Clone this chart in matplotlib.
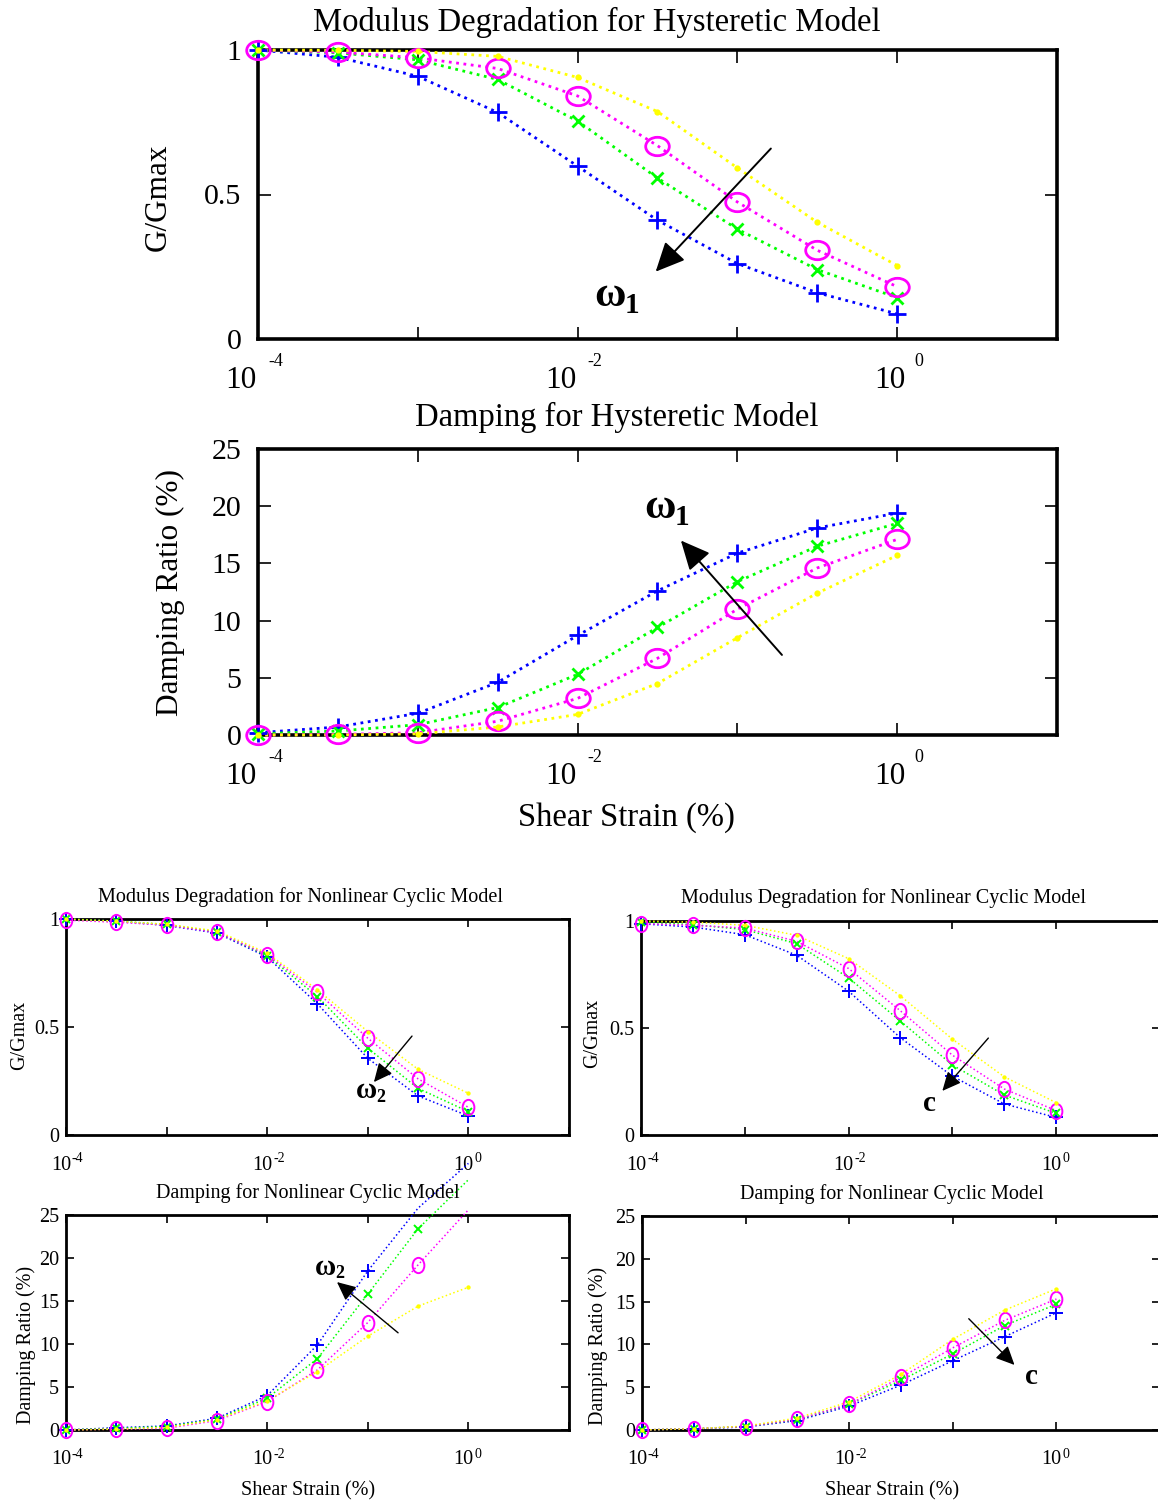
import numpy as np
import matplotlib
matplotlib.use('Agg')
import matplotlib.pyplot as plt
from matplotlib.path import Path
from matplotlib.transforms import Affine2D
from matplotlib.ticker import NullLocator

plt.rcParams['font.family'] = ['Liberation Serif', 'DejaVu Serif']

# shear strain (%) at which each curve is sampled
strain = [1e-4, 3.16e-4, 1e-3, 3.16e-3, 1e-2, 3.16e-2, 1e-1, 3.16e-1, 1.0]

# hysteretic model, G/Gmax (blue, green, magenta, yellow)
hys_mod_blue = [1.00, 0.975, 0.909, 0.784, 0.598, 0.411, 0.261, 0.160, 0.087]
hys_mod_green = [1.00, 0.990, 0.966, 0.898, 0.754, 0.557, 0.380, 0.240, 0.143]
hys_mod_mag = [1.00, 0.993, 0.973, 0.936, 0.841, 0.669, 0.474, 0.307, 0.181]
hys_mod_yel = [1.00, 0.999, 0.995, 0.978, 0.905, 0.787, 0.592, 0.404, 0.254]

# hysteretic model, damping ratio (%)
hys_damp_blue = [0.2, 0.7, 1.9, 4.6, 8.7, 12.6, 15.9, 18.1, 19.4]
hys_damp_green = [0.1, 0.35, 0.9, 2.4, 5.3, 9.4, 13.4, 16.5, 18.5]
hys_damp_mag = [0.0, 0.05, 0.2, 1.2, 3.2, 6.7, 11.0, 14.6, 17.1]
hys_damp_yel = [0.0, 0.0, 0.1, 0.7, 1.8, 4.5, 8.5, 12.4, 15.7]

# nonlinear cyclic model, varying omega2
w2_mod_blue = [1.00, 0.990, 0.970, 0.935, 0.824, 0.607, 0.355, 0.181, 0.088]
w2_mod_green = [1.00, 0.990, 0.975, 0.940, 0.830, 0.641, 0.402, 0.216, 0.108]
w2_mod_mag = [0.995, 0.985, 0.972, 0.938, 0.835, 0.660, 0.448, 0.260, 0.128]
w2_mod_yel = [1.00, 0.990, 0.975, 0.945, 0.842, 0.672, 0.479, 0.304, 0.193]

w2_damp_blue = [0.0, 0.27, 0.47, 1.36, 4.0, 9.9, 18.5, 25.8, 31.0]
w2_damp_green = [0.0, 0.2, 0.4, 1.25, 3.7, 8.3, 15.8, 23.4, 29.1]
w2_damp_mag = [0.0, 0.1, 0.2, 1.1, 3.3, 7.0, 12.5, 19.2, 25.6]
w2_damp_yel = [0.0, 0.1, 0.3, 1.2, 3.4, 6.8, 10.9, 14.4, 16.6]

# nonlinear cyclic model, varying c
c_mod_blue = [0.987, 0.972, 0.936, 0.840, 0.672, 0.454, 0.275, 0.145, 0.082]
c_mod_green = [0.995, 0.983, 0.960, 0.894, 0.734, 0.532, 0.327, 0.187, 0.101]
c_mod_mag = [0.988, 0.980, 0.967, 0.905, 0.778, 0.580, 0.373, 0.215, 0.114]
c_mod_yel = [1.00, 0.995, 0.980, 0.933, 0.824, 0.650, 0.448, 0.272, 0.151]

c_damp_blue = [0.0, 0.15, 0.35, 1.1, 2.8, 5.25, 8.1, 10.9, 13.7]
c_damp_green = [0.0, 0.15, 0.4, 1.2, 3.0, 5.8, 8.9, 12.2, 14.7]
c_damp_mag = [0.0, 0.15, 0.4, 1.25, 3.0, 6.15, 9.6, 12.8, 15.3]
c_damp_yel = [0.0, 0.15, 0.45, 1.4, 3.3, 6.5, 10.6, 14.0, 16.5]

BLUE = (0, 0, 1)
GREEN = (0, 1, 0)
MAG = (1, 0, 1)
YEL = (1, 1, 0)

W, H = 1158, 1506
BIG_TXT = 23.5
SMALL_TXT = 14.5


def ellipse(sy):
    # circles in the source are slightly squashed
    return Path.unit_circle().transformed(Affine2D().scale(1.0, sy))


def px_rect(l, t, r, b):
    return [l / W, (H - b) / H, (r - l) / W, (b - t) / H]


def draw_curves(ax, series, big, ymax):
    if big:
        lw, ms = 2.0, dict(plus=13, x=8, o=17, dot=5)
        mew = 2.0
        circ = ellipse(0.78)
    else:
        lw, ms = 1.1, dict(plus=10, x=6, o=11, dot=3.5)
        mew = 1.4
        circ = ellipse(1.3)
    styles = [(BLUE, '+', ms['plus']), (GREEN, 'x', ms['x']),
              (MAG, circ, ms['o']), (YEL, '.', ms['dot'])]
    for y, (col, mk, size) in zip(series, styles):
        y = np.array(y, dtype=float)
        ax.plot(strain, y, ls=':', color=col, lw=lw, clip_on=False, zorder=3)
        yv = np.where(y <= ymax, y, np.nan)
        ax.plot(strain, yv, ls='none', marker=mk, ms=size, mew=mew,
                color=col, mfc='none' if mk is circ else col,
                clip_on=False, zorder=4)


def setup_axes(ax, ylim, yticks, ylabels, big):
    ax.set_xscale('log')
    ax.set_xlim(1e-4, 10)
    ax.set_ylim(*ylim)
    ax.set_xticks([1e-4, 1e-3, 1e-2, 1e-1, 1, 10])
    ax.xaxis.set_minor_locator(NullLocator())
    ax.set_xticklabels([])
    ax.set_yticks(yticks)
    ax.set_yticklabels(ylabels)
    ax.tick_params(direction='in', top=True, right=True,
                   length=9 if big else 6, width=1.2,
                   labelsize=21.5 if big else 14.5, pad=12 if big else 5)
    for sp in ax.spines.values():
        sp.set_linewidth(2.6 if big else 2.0)
    # decade labels in the old "10 -4" style
    tr = ax.get_xaxis_transform()
    k = 72.0 / 100
    for e in [-4, -2, 0]:
        if big:
            dx10, dxe = {-4: (-2, 10), -2: (-1, 10), 0: (8, 17)}[e]
            ax.annotate('10', xy=(10.0 ** e, 0), xycoords=tr,
                        xytext=(dx10 * k, -41 * k), textcoords='offset points',
                        ha='right', va='center', fontsize=22.5)
            ax.annotate(str(e), xy=(10.0 ** e, 0), xycoords=tr,
                        xytext=(dxe * k, -23 * k), textcoords='offset points',
                        ha='left', va='center', fontsize=13)
        else:
            ax.annotate('10', xy=(10.0 ** e, 0), xycoords=tr,
                        xytext=(5 * k, -30 * k), textcoords='offset points',
                        ha='right', va='center', fontsize=14.5)
            ax.annotate(str(e), xy=(10.0 ** e, 0), xycoords=tr,
                        xytext=(6 * k, -24 * k), textcoords='offset points',
                        ha='left', va='center', fontsize=10)


def arrow(ax, tail, tip, big):
    ms = 30 if big else 19
    ax.annotate('', xy=tip, xytext=tail,
                arrowprops=dict(arrowstyle='-|>,head_length=0.6,head_width=0.28',
                                color='k', lw=1.4 if big else 1.0,
                                mutation_scale=ms, shrinkA=0, shrinkB=0),
                annotation_clip=False, zorder=6)


def greek_label(ax, pos, sub, big):
    fs, fsub = (31, 21) if big else (21, 13)
    ax.text(pos[0], pos[1], '\u03c9', fontsize=fs, fontweight='bold',
            ha='center', va='center', zorder=6)
    ax.annotate(sub, xy=pos, xytext=(fs * 0.5, -fs * 0.22),
                textcoords='offset points', fontsize=fsub, fontweight='bold',
                ha='center', va='center', zorder=6)


fig = plt.figure(figsize=(W / 100, H / 100), dpi=100)

# ---- hysteretic model ----
ax1 = fig.add_axes(px_rect(258, 50, 1057, 339))
setup_axes(ax1, (0, 1), [0, 0.5, 1], ['0', '0.5', '1'], True)
draw_curves(ax1, [hys_mod_blue, hys_mod_green, hys_mod_mag, hys_mod_yel], True, 1.0)
ax1.text(0.424, 1.094, 'Modulus Degradation for Hysteretic Model',
         transform=ax1.transAxes, ha='center', va='center', fontsize=BIG_TXT)
ax1.text(-0.125, 0.491, 'G/Gmax', transform=ax1.transAxes, rotation=90,
         ha='center', va='center', fontsize=22.5)
arrow(ax1, (0.162, 0.659), (0.0308, 0.233), True)
greek_label(ax1, (0.0160, 0.15), '1', True)

ax2 = fig.add_axes(px_rect(258, 449, 1057, 735))
setup_axes(ax2, (0, 25), [0, 5, 10, 15, 20, 25],
           ['0', '5', '10', '15', '20', '25'], True)
draw_curves(ax2, [hys_damp_blue, hys_damp_green, hys_damp_mag, hys_damp_yel], True, 25)
ax2.text(0.449, 1.110, 'Damping for Hysteretic Model',
         transform=ax2.transAxes, ha='center', va='center', fontsize=BIG_TXT)
ax2.text(-0.110, 0.5, 'Damping Ratio (%)', transform=ax2.transAxes, rotation=90,
         ha='center', va='center', fontsize=22.5)
ax2.text(0.461, -0.290, 'Shear Strain (%)', transform=ax2.transAxes,
         ha='center', va='center', fontsize=BIG_TXT)
arrow(ax2, (0.19, 7.0), (0.0443, 17.0), True)
greek_label(ax2, (0.0330, 19.8), '1', True)

# ---- nonlinear cyclic model, omega2 ----
ax3 = fig.add_axes(px_rect(66, 919, 569, 1135))
setup_axes(ax3, (0, 1), [0, 0.5, 1], ['0', '0.5', '1'], False)
draw_curves(ax3, [w2_mod_blue, w2_mod_green, w2_mod_mag, w2_mod_yel], False, 1.0)
ax3.text(0.467, 1.102, 'Modulus Degradation for Nonlinear Cyclic Model',
         transform=ax3.transAxes, ha='center', va='center', fontsize=SMALL_TXT)
ax3.text(-0.0915, 0.463, 'G/Gmax', transform=ax3.transAxes, rotation=90,
         ha='center', va='center', fontsize=SMALL_TXT)
arrow(ax3, (0.275, 0.458), (0.115, 0.245), False)
greek_label(ax3, (0.096, 0.205), '2', False)

ax5 = fig.add_axes(px_rect(66, 1215, 569, 1430))
setup_axes(ax5, (0, 25), [0, 5, 10, 15, 20, 25],
           ['0', '5', '10', '15', '20', '25'], False)
draw_curves(ax5, [w2_damp_blue, w2_damp_green, w2_damp_mag, w2_damp_yel], False, 25)
ax5.text(0.481, 1.102, 'Damping for Nonlinear Cyclic Model',
         transform=ax5.transAxes, ha='center', va='center', fontsize=SMALL_TXT)
ax5.text(-0.0795, 0.395, 'Damping Ratio (%)', transform=ax5.transAxes, rotation=90,
         ha='center', va='center', fontsize=SMALL_TXT)
ax5.text(0.481, -0.284, 'Shear Strain (%)', transform=ax5.transAxes,
         ha='center', va='center', fontsize=SMALL_TXT)
arrow(ax5, (0.2, 11.3), (0.0494, 17.2), False)
greek_label(ax5, (0.0380, 18.9), '2', False)

# ---- nonlinear cyclic model, c ----
ax4 = fig.add_axes(px_rect(641, 921, 1160, 1135))
setup_axes(ax4, (0, 1), [0, 0.5, 1], ['0', '0.5', '1'], False)
draw_curves(ax4, [c_mod_blue, c_mod_green, c_mod_mag, c_mod_yel], False, 1.0)
ax4.text(0.467, 1.107, 'Modulus Degradation for Nonlinear Cyclic Model',
         transform=ax4.transAxes, ha='center', va='center', fontsize=SMALL_TXT)
ax4.text(-0.093, 0.477, 'G/Gmax', transform=ax4.transAxes, rotation=90,
         ha='center', va='center', fontsize=SMALL_TXT)
arrow(ax4, (0.222, 0.453), (0.080, 0.206), False)
ax4.text(0.060, 0.145, 'c', fontsize=21, fontweight='bold',
         ha='center', va='center')

ax6 = fig.add_axes(px_rect(642, 1216, 1160, 1430))
setup_axes(ax6, (0, 25), [0, 5, 10, 15, 20, 25],
           ['0', '5', '10', '15', '20', '25'], False)
draw_curves(ax6, [c_damp_blue, c_damp_green, c_damp_mag, c_damp_yel], False, 25)
ax6.text(0.483, 1.103, 'Damping for Nonlinear Cyclic Model',
         transform=ax6.transAxes, ha='center', va='center', fontsize=SMALL_TXT)
ax6.text(-0.085, 0.395, 'Damping Ratio (%)', transform=ax6.transAxes, rotation=90,
         ha='center', va='center', fontsize=SMALL_TXT)
ax6.text(0.482, -0.284, 'Shear Strain (%)', transform=ax6.transAxes,
         ha='center', va='center', fontsize=SMALL_TXT)
arrow(ax6, (0.1426, 13.0), (0.394, 7.6), False)
ax6.text(0.575, 6.2, 'c', fontsize=21, fontweight='bold',
         ha='center', va='center')

fig.savefig('out.png', dpi=100)
